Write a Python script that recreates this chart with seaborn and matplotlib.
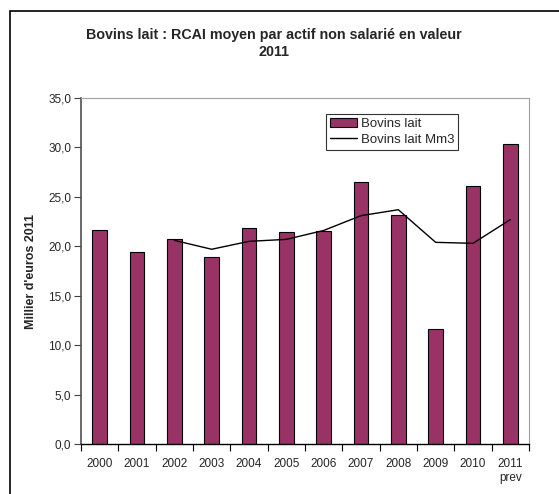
import pandas as pd
import matplotlib
matplotlib.use("Agg")
import matplotlib.pyplot as plt
import seaborn as sns
from matplotlib.patches import Rectangle
from matplotlib.ticker import FuncFormatter, FixedLocator

# Donnees
annees = ['2000', '2001', '2002', '2003', '2004', '2005', '2006', '2007',
          '2008', '2009', '2010', '2011\nprev']
bovins_lait = [21.6, 19.4, 20.7, 18.9, 21.9, 21.4, 21.5, 26.5, 23.2, 11.6, 26.1, 30.3]
bovins_mm3 = [None, None, 20.6, 19.7, 20.5, 20.7, 21.6, 23.1, 23.7, 20.4, 20.3, 22.7]

df = pd.DataFrame({'annee': annees, 'lait': bovins_lait, 'mm3': bovins_mm3})
df['pos'] = range(len(df))

sns.set_theme(style="white")
plt.rcParams['font.family'] = ['Liberation Sans', 'DejaVu Sans']

fig = plt.figure(figsize=(5.59, 4.94), dpi=100)
ax = fig.add_axes([0.1449, 0.1012, 0.8014, 0.7004])

sns.barplot(data=df, x='annee', y='lait', color='#993366', saturation=1,
            width=0.4, edgecolor='black', linewidth=0.8, ax=ax,
            label='Bovins lait')
sns.lineplot(data=df.dropna(), x='pos', y='mm3', color='black', linewidth=1,
             ax=ax, label='Bovins lait Mm3')

ax.set_xlim(-0.5, len(df) - 0.5)
ax.set_ylim(0, 35)
ax.set_yticks([0, 5, 10, 15, 20, 25, 30, 35])
ax.yaxis.set_major_formatter(FuncFormatter(lambda v, p: f"{v:.1f}".replace('.', ',')))
ax.xaxis.set_minor_locator(FixedLocator([i - 0.5 for i in range(len(df) + 1)]))

ax.tick_params(axis='y', which='major', direction='out', length=5, width=0.8,
               color='#404040', labelsize=8.5, left=True, pad=2)
ax.tick_params(axis='x', which='major', length=0, labelsize=8.5, pad=10)
ax.tick_params(axis='x', which='minor', direction='out', length=5, width=0.8,
               color='black', bottom=True)

for s in ['top', 'right']:
    ax.spines[s].set_color('#a0a0a0')
    ax.spines[s].set_linewidth(0.8)
ax.spines['left'].set_color('#505050')
ax.spines['left'].set_linewidth(1.2)
ax.spines['bottom'].set_color('black')
ax.spines['bottom'].set_linewidth(1.0)

ax.set_xlabel('')
ax.set_ylabel("Millier d'euros 2011", fontsize=9, fontweight='bold', labelpad=8)

handles, labels = ax.get_legend_handles_labels()
order = [labels.index('Bovins lait'), labels.index('Bovins lait Mm3')]
leg = ax.legend([handles[i] for i in order], [labels[i] for i in order],
                loc='upper left', bbox_to_anchor=(0.533, 0.974), fontsize=9.5,
                frameon=True, fancybox=False, edgecolor='black',
                borderpad=0.3, labelspacing=0.3, handlelength=2.0,
                handletextpad=0.3)
leg.get_frame().set_linewidth(0.8)

fig.text(0.49, 0.912, "Bovins lait : RCAI moyen par actif non salarié en valeur\n2011",
         ha='center', va='center', fontsize=10.3, fontweight='bold',
         multialignment='center', linespacing=1.3)

# Cadre exterieur
fig.patches.append(Rectangle((10 / 559, -0.1), 1.2, 1 - 11 / 494 + 0.1,
                             transform=fig.transFigure, fill=False,
                             edgecolor='black', linewidth=1.2))

fig.savefig('out.png', dpi=100)
